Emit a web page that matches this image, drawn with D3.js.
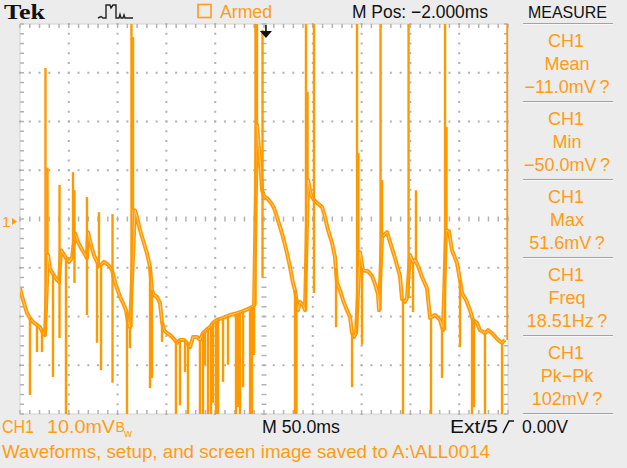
<!DOCTYPE html>
<html><head><meta charset="utf-8">
<script src="https://cdn.jsdelivr.net/npm/d3@7/dist/d3.min.js"></script>
<style>
html,body{margin:0;padding:0;background:#ececec;overflow:hidden;}
svg{display:block;}
</style></head><body>
<svg id="c" width="627" height="468" font-family="'Liberation Sans',Arial,sans-serif"></svg>
<script>
// ---- data (time in ms relative to trigger, voltage in mV) ----
const timeTicks = [-250,-200,-150,-100,-50,0,50,100,150,200,250];
const voltTicks = [-40,-30,-20,-10,0,10,20,30,40];

const traceT = [-250.0,-246.9,-242.8,-239.8,-236.7,-232.6,-229.5,-226.4,-224.4,
 -221.3,-219.3,-217.2,-214.1,-212.1,-210.0,
 -208.0,-205.9,-202.9,-199.8,-196.7,
 -193.6,-190.6,-187.5,-184.4,-181.4,
 -180.3,-177.3,-174.2,-171.1,-169.1,
 -167.0,-163.9,-160.9,-157.8,-155.7,
 -153.7,-150.6,-147.5,-144.5,-141.4,-139.3,-137.3,
 -132.2,-130.1,-127.0,-124.0,-119.9,-116.8,-114.8,-112.7,-109.6,-106.6,-104.5,-102.5,
 -99.4,-96.3,-93.2,-89.1,-86.1,-82.0,-78.9,-75.8,-72.7,-68.6,-65.6,-62.5,-58.4,-55.3,
 -52.3,-48.2,-42.0,-34.8,-27.7,-21.5,-14.3,-10.2,
 -7.2,-4.1,-2.0,
 0.0,4.1,7.2,10.2,13.3,16.4,19.5,23.6,26.6,29.7,31.8,
 34.8,36.9,40.0,42.0,
 45.1,48.2,51.2,54.3,59.4,62.5,65.6,69.7,72.7,74.8,77.9,80.9,85.0,88.1,90.2,92.2,94.3,
 98.4,101.4,106.6,110.7,113.7,116.8,117.8,
 120.9,126.0,129.1,134.2,139.3,141.4,144.5,146.5,
 149.6,152.7,154.7,157.8,161.9,167.0,170.1,175.2,180.3,183.4,
 186.5,189.5,192.6,197.7,200.8,202.9,207.0,211.1,214.1,218.2,221.3,226.4,229.5,233.6,
 239.8,243.9,246.9];
const traceV = [-14.2,-16.6,-19.3,-20.3,-21.1,-21.7,-22.2,-23.4,-23.8,
 -7.4,-10.1,-10.9,-11.9,-12.5,-12.9,
 -6.4,-7.0,-8.0,-8.8,-8.0,
 -2.9,-4.7,-5.9,-7.0,-8.0,
 -2.7,-5.3,-7.4,-8.8,-9.6,
 -9.4,-8.8,-9.2,-9.8,-10.5,
 -12.1,-14.2,-16.0,-17.2,-18.7,-21.1,-22.2,
 1.8,0.4,-2.3,-4.3,-7.0,-9.8,-14.6,-15.6,-16.0,-17.2,-21.1,-22.8,
 -23.4,-23.8,-24.4,-25.4,-24.8,-24.8,-25.4,-26.3,-24.2,-24.2,-24.8,-23.4,-22.6,-22.2,
 -21.3,-20.7,-20.3,-19.7,-19.3,-18.9,-18.3,-17.8,
 19.3,12.1,5.9,
 4.7,4.1,3.3,2.3,0.4,-1.6,-3.7,-7.0,-9.8,-13.1,-14.6,
 -18.7,-17.0,-17.6,-18.7,
 8.0,4.9,3.9,3.3,2.5,0.4,-2.3,-4.9,-7.8,-13.1,-14.6,-16.6,-18.7,-20.1,-23.4,-24.2,-23.4,
 -6.8,-10.5,-10.7,-11.7,-13.3,-15.4,-18.7,
 -3.7,-2.7,-4.7,-8.0,-11.7,-16.4,-17.0,-16.2,
 -7.4,-8.8,-8.4,-9.6,-11.9,-14.2,-20.3,-19.7,-20.7,-22.8,
 -2.3,-2.5,-6.4,-9.0,-12.5,-15.2,-16.6,-18.7,-20.7,-21.3,-22.8,-23.4,-22.8,-23.4,
 -24.8,-25.4,-24.8];

// glitches: vertical excursions (time, low end, high end) in mV
const glitchT  = [-239.8,-232.6,-227.5,-223.9,-221.8,-216.2,-209.5,-202.9,-195.7,-194.2,-181.4,-171.1,-169.1,-167.0,-155.2,
 -140.4,-137.3,-135.8,-134.2,-116.8,-114.8,-104.5,-90.2,-86.1,-80.9,-77.9,-65.6,-62.5,-60.5,-57.4,-54.3,-52.3,-49.2,-47.1,
 -42.0,-36.9,-28.7,-26.6,-24.6,-21.5,-14.3,-12.3,-10.2,-8.7,-7.2,-1.5,31.8,33.3,43.0,44.6,51.2,73.8,90.2,95.3,96.8,100.4,
 119.4,120.9,142.4,148.1,152.7,155.7,171.1,182.4,185.5,187.0,200.8,213.1,215.2,226.4,243.9,249.5];
const glitchLo = [-36.1,-27.3,-27.3,-23.8,-7.4,-32.4,-24.4,-50,-8.0,-13.1,-19.7,-25.4,-9.6,-31.0,-33.6,
 -50,-26.5,-22.2,1.8,-34.7,-32.6,-25.2,-50,-38.2,-31.4,-50,-50,-50,-29.9,-50,-50,-37.7,-50,-50,
 -33.4,-29.9,-50,-38.6,-50,-34.5,-50,-50,-27.9,-17.8,19.3,-11.9,-50,-50,-18.7,8.0,-15.2,-22.2,-34.5,-23.4,-6.8,-25.8,
 -18.7,-3.7,-50,-16.2,-19.1,-8.4,-50,-32.6,-22.8,-2.3,-26.3,-50,-38.6,-50,-50,-24.8];
const glitchHi = [-20.3,-21.7,-22.6,31.0,10.5,-11.3,7.0,-8.0,9.6,5.9,4.5,-8.8,1.4,-9.4,1.0,
 -19.0,-22.2,51.6,37.3,-9.8,-14.6,-21.1,-25.0,-24.8,-24.8,-25.4,-24.8,-23.4,-23.0,-22.4,-22.0,-21.3,-20.9,-20.5,
 -20.3,-19.9,-19.5,-19.3,-19.1,-18.9,-18.3,-18.0,-17.8,51.6,51.6,38.8,-14.6,-16.0,51.6,26.1,51.6,-10.0,-23.4,51.6,13.5,-10.0,
 51.6,8.0,-16.4,51.6,-8.8,5.9,-20.3,-22.2,51.6,18.9,-12.5,-20.3,-20.7,-23.4,-25.4,51.6];

const measCh    = ["CH1","CH1","CH1","CH1","CH1"];
const measName  = ["Mean","Min","Max","Freq","Pk\u2212Pk"];
const measValue = ["\u221211.0mV\u2009?","\u221250.0mV\u2009?","51.6mV\u2009?","18.51Hz\u2009?","102mV\u2009?"];

// ---- drawing ----
const ORANGE = "#ff9900", TXT = "#ff9c12", GRID = "#b2b2b2";
const svg = d3.select("#c");
const x = d3.scaleLinear().domain([-250,250]).range([20,508]);
const y = d3.scaleLinear().domain([-40,40]).range([414,24]);
const X0=x(-250), X1=x(250), Y0=y(40), Y1=y(-40);

svg.append("rect").attr("width",627).attr("height",468).attr("fill","#ececec");
svg.append("rect").attr("x",X0).attr("y",Y0).attr("width",X1-X0).attr("height",Y1-Y0).attr("fill","#fff")
  .attr("stroke","#d2d2d2").attr("stroke-width",1);

const minorX = x.ticks(50), minorY = y.ticks(40);
const g = svg.append("g");
timeTicks.slice(1,-1).forEach(t=>{
  if(t===0) return;
  minorY.forEach(v=>g.append("rect").attr("x",x(t)-1).attr("y",y(v)-1).attr("width",2).attr("height",2).attr("fill",GRID));
});
voltTicks.slice(1,-1).forEach(v=>{
  if(v===0) return;
  minorX.forEach(t=>g.append("rect").attr("x",x(t)-1).attr("y",y(v)-1).attr("width",2).attr("height",2).attr("fill",GRID));
});
minorX.forEach(t=>g.append("rect").attr("x",x(t)-0.75).attr("y",y(0)-2.5).attr("width",1.5).attr("height",5).attr("fill",GRID));
minorY.forEach(v=>g.append("rect").attr("x",x(0)-2.5).attr("y",y(v)-0.75).attr("width",5).attr("height",1.5).attr("fill",GRID));
minorY.forEach(v=>{
  g.append("rect").attr("x",X0).attr("y",y(v)-0.75).attr("width",4).attr("height",1.5).attr("fill",GRID);
  g.append("rect").attr("x",X1-4).attr("y",y(v)-0.75).attr("width",4).attr("height",1.5).attr("fill",GRID);
});
minorX.forEach(t=>{
  g.append("rect").attr("x",x(t)-0.75).attr("y",Y0).attr("width",1.5).attr("height",4).attr("fill",GRID);
  g.append("rect").attr("x",x(t)-0.75).attr("y",Y1-4).attr("width",1.5).attr("height",4).attr("fill",GRID);
});

svg.append("clipPath").attr("id","clip").append("rect").attr("x",X0).attr("y",Y0).attr("width",X1-X0).attr("height",Y1-Y0);
const w = svg.append("g").attr("clip-path","url(#clip)");
const pts = traceT.map((t,i)=>[t,traceV[i]]);
const line = d3.line().x(d=>x(d[0])).y(d=>y(d[1]));
w.append("path").attr("d",line(pts)).attr("fill","none").attr("stroke",ORANGE).attr("stroke-width",4).attr("stroke-linejoin","round");
w.append("path").attr("d",line(pts)).attr("fill","none").attr("stroke","#fff").attr("stroke-width",0.9).attr("stroke-opacity",0.55);
w.selectAll("line.gl").data(glitchT).enter().append("line")
  .attr("x1",t=>x(t)).attr("x2",t=>x(t))
  .attr("y1",(t,i)=>y(glitchLo[i])).attr("y2",(t,i)=>y(glitchHi[i]))
  .attr("stroke",ORANGE).attr("stroke-width",2.4);

// ground marker
svg.append("text").attr("x",2).attr("y",y(0)+8).attr("fill",TXT).attr("font-size",15).text("1");
svg.append("path").attr("d",`M12,${y(0)-1}L12,${y(0)+6}L17,${y(0)+2.5}Z`).attr("fill",TXT);
// trigger position arrow
const tx = x(2);
svg.append("path").attr("d",`M${tx-0.8},25L${tx+0.8},25L${tx+0.8},31L${tx+6},31L${tx},38L${tx-6},31L${tx-0.8},31Z`).attr("fill","#111");

// header
svg.append("text").attr("x",4).attr("y",19).attr("font-family","'Liberation Serif','DejaVu Serif',serif").attr("font-weight","bold")
  .attr("font-size",22).attr("fill","#111").attr("textLength",41).attr("lengthAdjust","spacingAndGlyphs").text("Tek");
svg.append("path").attr("d","M98,18L101,16.5L103,18L106,18L106,5L110,5L111,8L113,5L116,5L116,18L119,18L120,14.5L121,18L123,18L124,15L125,18L133,18")
  .attr("fill","none").attr("stroke","#222").attr("stroke-width",1.4);
svg.append("rect").attr("x",198).attr("y",4.5).attr("width",13).attr("height",13).attr("fill","none").attr("stroke",TXT).attr("stroke-width",1.6);
svg.append("text").attr("x",220).attr("y",18).attr("font-size",18).attr("fill",TXT)
  .attr("textLength",52).attr("lengthAdjust","spacingAndGlyphs").text("Armed");
svg.append("text").attr("x",352).attr("y",17.5).attr("font-size",18).attr("fill","#111")
  .attr("textLength",136).attr("lengthAdjust","spacingAndGlyphs").text("M Pos: \u22122.000ms");
svg.append("text").attr("x",528).attr("y",17.5).attr("font-size",17).attr("fill","#111")
  .attr("textLength",79).attr("lengthAdjust","spacingAndGlyphs").text("MEASURE");

// measurement panel
const sep = [23.5,101.5,179.5,257.5,335.5,413.5];
sep.forEach(s=>{
  svg.append("line").attr("x1",523).attr("x2",613).attr("y1",s).attr("y2",s).attr("stroke","#a2a2a2").attr("stroke-width",1);
  svg.append("line").attr("x1",523).attr("x2",613).attr("y1",s+1).attr("y2",s+1).attr("stroke","#f8f8f8").attr("stroke-width",1);
});
measCh.forEach((c,i)=>{
  const b = 78*i;
  const tg = svg.append("g").attr("fill",TXT).attr("text-anchor","middle").attr("font-size",18);
  tg.append("text").attr("x",566).attr("y",46.5+b).text(c);
  tg.append("text").attr("x",567).attr("y",69.5+b).text(measName[i]);
  tg.append("text").attr("x",567).attr("y",92.5+b).text(measValue[i]);
});

// bottom status
const by = 433;
svg.append("text").attr("x",2).attr("y",by).attr("font-size",18).attr("fill",TXT).attr("textLength",32).attr("lengthAdjust","spacingAndGlyphs").text("CH1");
svg.append("text").attr("x",47).attr("y",by).attr("font-size",18).attr("fill",TXT).attr("textLength",68).attr("lengthAdjust","spacingAndGlyphs").text("10.0mV");
svg.append("text").attr("x",115.5).attr("y",by-1).attr("font-size",14).attr("fill",TXT).text("B");
svg.append("text").attr("x",124).attr("y",by+4).attr("font-size",11).attr("fill",TXT).text("w");
svg.append("text").attr("x",262).attr("y",by).attr("font-size",18).attr("fill","#111").attr("textLength",78).attr("lengthAdjust","spacingAndGlyphs").text("M 50.0ms");
svg.append("text").attr("x",450).attr("y",by).attr("font-size",18).attr("fill","#111").attr("textLength",48).attr("lengthAdjust","spacingAndGlyphs").text("Ext/5");
svg.append("path").attr("d",`M503,${by}L509,${by-12}L514,${by-12}`).attr("fill","none").attr("stroke","#111").attr("stroke-width",1.6);
svg.append("text").attr("x",522).attr("y",by).attr("font-size",18).attr("fill","#111").attr("textLength",46).attr("lengthAdjust","spacingAndGlyphs").text("0.00V");
svg.append("text").attr("x",2).attr("y",458).attr("font-size",18).attr("fill",TXT).attr("textLength",488).attr("lengthAdjust","spacingAndGlyphs")
  .text("Waveforms, setup, and screen image saved to A:\\ALL0014");
</script>
</body></html>
